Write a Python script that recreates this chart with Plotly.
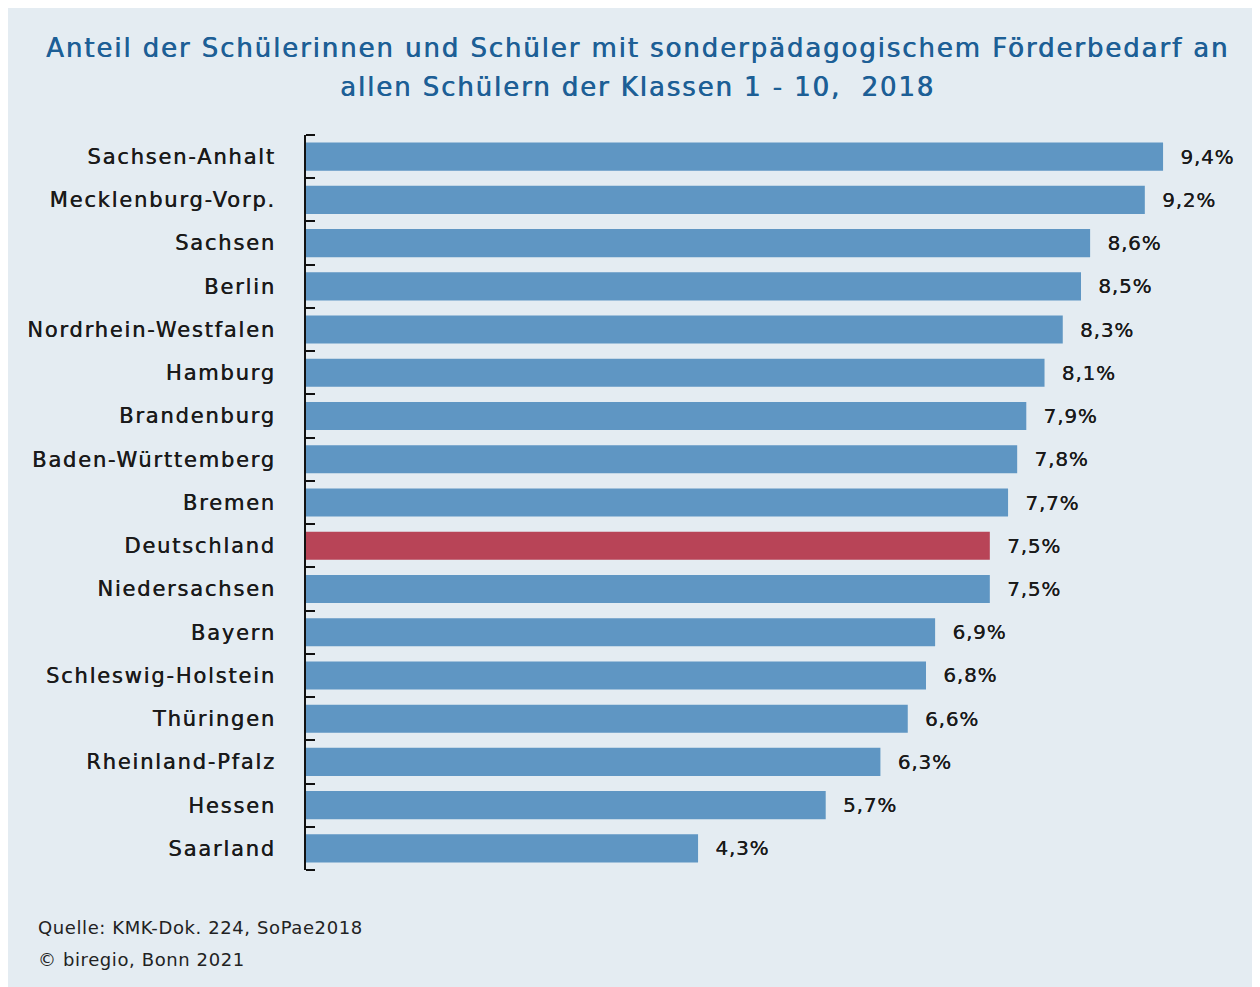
import plotly.graph_objects as go

laender = ["Sachsen-Anhalt", "Mecklenburg-Vorp.", "Sachsen", "Berlin", "Nordrhein-Westfalen",
           "Hamburg", "Brandenburg", "Baden-Württemberg", "Bremen", "Deutschland",
           "Niedersachsen", "Bayern", "Schleswig-Holstein", "Thüringen", "Rheinland-Pfalz",
           "Hessen", "Saarland"]
anteil = [9.4, 9.2, 8.6, 8.5, 8.3, 8.1, 7.9, 7.8, 7.7, 7.5, 7.5, 6.9, 6.8, 6.6, 6.3, 5.7, 4.3]
highlight = "Deutschland"

def spaced(s, ls):
    return f'<span style="letter-spacing:{ls}px">{s}</span>'

colors = ["#b84457" if l == highlight else "#5f96c3" for l in laender]
labels = [spaced("  " + f"{v:.1f}".replace(".", ",") + "%", 0.8) for v in anteil]

FONT = "DejaVu Sans"
INK = "#1a1a1a"
BLUE = "#1d5f96"

fig = go.Figure(go.Bar(
    y=laender, x=anteil, orientation="h",
    marker=dict(color=colors, line=dict(width=0)),
    text=labels, textposition="outside", cliponaxis=False,
    textfont=dict(family=FONT, size=20, color=INK, shadow=f"0.2px 0px 0px {INK}"),
    hoverinfo="skip",
))

W, H = 1260, 987
L, R, T, B = 298, 32, 127, 125
PW, PH = W - L - R, H - T - B
fig.update_layout(
    width=W, height=H,
    margin=dict(l=L, r=R, t=T, b=B),
    paper_bgcolor="#e4ecf2", plot_bgcolor="#e4ecf2",
    bargap=0.35, showlegend=False,
    xaxis=dict(range=[0, 10.2], visible=False, fixedrange=True),
    yaxis=dict(
        autorange="reversed", tickson="boundaries", ticks="inside", ticklen=9,
        tickwidth=2, tickcolor="#111111", showline=True, linecolor="#111111", linewidth=2,
        showgrid=False, ticklabelstandoff=24,
        tickmode="array", tickvals=laender, ticktext=[spaced(l, 1.8) for l in laender],
        tickfont=dict(family=FONT, size=21, color=INK, shadow=f"0.45px 0px 0px {INK}"),
    ),
    font=dict(family=FONT),
)

def px_x(x):
    return (x - L) / PW

def px_y(y):
    return 1 - (y - T) / PH

# end ticks of the axis bracket
for yy in (0, 1):
    fig.add_shape(type="line", xref="paper", yref="paper", x0=0, x1=9 / PW, y0=yy, y1=yy,
                  line=dict(color="#111111", width=2))

title_lines = ["Anteil der Schülerinnen und Schüler mit sonderpädagogischem Förderbedarf an",
               "allen Schülern der Klassen 1 - 10,  2018"]
for line, yc in zip(title_lines, [40, 79]):
    fig.add_annotation(text=spaced(line, 1.9), xref="paper", yref="paper", x=px_x(629), xanchor="center",
                       y=px_y(yc), yanchor="middle", showarrow=False,
                       font=dict(family=FONT, size=26, color=BLUE, shadow=f"0.6px 0px 0px {BLUE}"))

foot_lines = ["Quelle: KMK-Dok. 224, SoPae2018", "© biregio, Bonn 2021"]
for line, yc in zip(foot_lines, [919, 951]):
    fig.add_annotation(text=spaced(line, 0.6), xref="paper", yref="paper", x=px_x(28), xanchor="left",
                       y=px_y(yc), yanchor="middle", showarrow=False,
                       font=dict(family=FONT, size=18, color="#222222"))

fig.write_html("out.html")
